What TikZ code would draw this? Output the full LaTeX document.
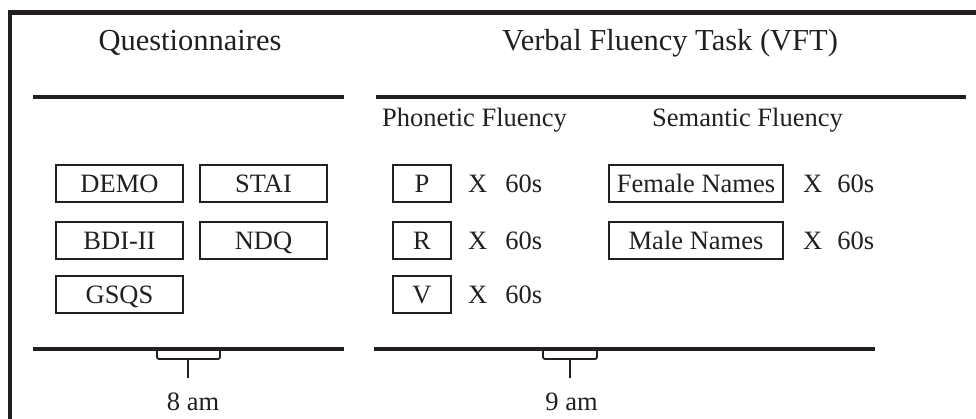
\documentclass[tikz,border=0pt]{standalone}
\usepackage{fontspec}
\setmainfont{Liberation Serif}
\definecolor{ink}{RGB}{35,31,32}
\tikzset{
  heading/.style={anchor=base, inner sep=0pt, text=ink, font=\fontsize{30.5}{36}\selectfont},
  label/.style={inner sep=0pt, text=ink, font=\fontsize{26.5}{32}\selectfont},
  itembox/.style={draw=ink, line width=1.8pt, inner sep=0pt, minimum height=37pt,
    text height=17.5pt, text depth=0pt, text=ink, font=\fontsize{26.5}{32}\selectfont},
  qbox/.style={itembox, minimum width=127pt},
  letterbox/.style={itembox, minimum width=58pt},
  namebox/.style={itembox, minimum width=174pt},
  rep/.style={label, anchor=west, text height=17.5pt, text depth=0pt},
  rule/.style={draw=ink, line width=4.5pt},
  brace/.style={draw=ink, line width=1.8pt, rounded corners=2pt},
}
\begin{document}
\begin{tikzpicture}[x=1pt, y=-1pt]
\useasboundingbox (0,0) rectangle (976,419);

% outer frame (left and top edges)
\draw[rule] (10,425) -- (10,12.5) -- (980,12.5);

% section headings
\node[heading] (qtitle) at (190,51) {Questionnaires};
\node[heading] (vtitle) at (670,51) {Verbal Fluency Task (VFT)};

% horizontal rules
\draw[rule] (33,97) -- (344,97);
\draw[rule] (376,97) -- (966,97);
\draw[rule] (33,349) -- (344,349);
\draw[rule] (374,349) -- (875,349);

% sub-headings
\node[label, anchor=base west] (phon) at (382,127) {Phonetic Fluency};
\node[label, anchor=base west] (sem) at (652,127) {Semantic Fluency};

% questionnaires
\node[qbox] (demo) at (119.5,183.5) {DEMO};
\node[qbox] (stai) at (263.5,183.5) {STAI};
\node[qbox] (bdi)  at (119.5,240.5) {BDI-II};
\node[qbox] (ndq)  at (263.5,240.5) {NDQ};
\node[qbox] (gsqs) at (119.5,294.5) {GSQS};

% phonetic fluency letters
\node[letterbox] (p) at (422,183.5) {P};
\node[letterbox] (r) at (422,240.5) {R};
\node[letterbox] (v) at (422,294.5) {V};
\node[rep] (pt) at (468,183.5) {X\hspace{18pt}60s};
\node[rep] (rt) at (468,240.5) {X\hspace{18pt}60s};
\node[rep] (vt) at (468,294.5) {X\hspace{18pt}60s};

% semantic fluency categories
\node[namebox] (fem)  at (696,183.5) {Female Names};
\node[namebox] (male) at (696,240.5) {Male Names};
\node[rep] (ft) at (803,183.5) {X\hspace{15pt}60s};
\node[rep] (mt) at (803,240.5) {X\hspace{15pt}60s};

% time markers
\coordinate (ba) at (188,378);
\coordinate (bb) at (570,378);
\draw[brace] (157,350) -- (157,359) -- (220,359) -- (220,350);
\draw[draw=ink, line width=1.8pt] (188,359) -- (ba);
\draw[brace] (543,350) -- (543,359) -- (597,359) -- (597,350);
\draw[draw=ink, line width=1.8pt] (570,359) -- (bb);
\node[label, anchor=base] (t8) at (193,410) {8 am};
\node[label, anchor=base] (t9) at (571.5,410) {9 am};
\end{tikzpicture}
\end{document}
